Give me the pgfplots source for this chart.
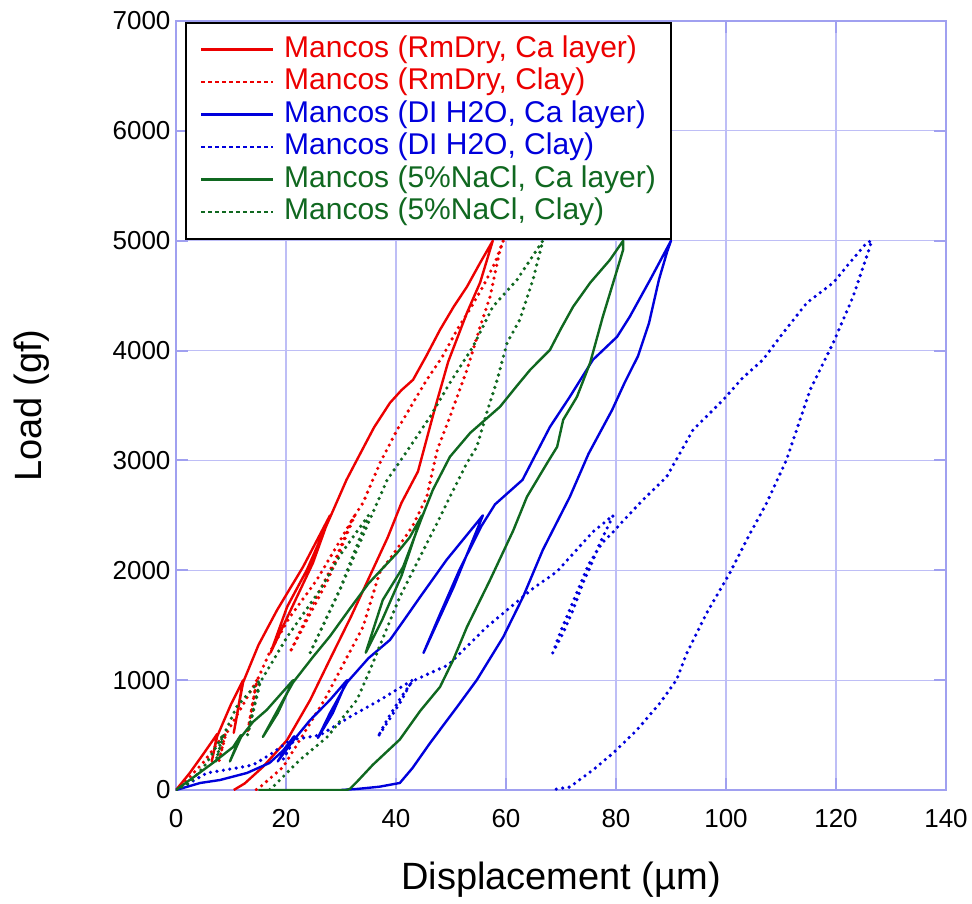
\documentclass[border=0pt]{standalone}
\usepackage{fontspec}
\setmainfont{Liberation Sans}
\usepackage{pgfplots}
\pgfplotsset{compat=1.18}
\definecolor{cRed}{RGB}{236,0,0}
\definecolor{cBlue}{RGB}{0,0,220}
\definecolor{cGreen}{RGB}{16,104,32}
\definecolor{gridc}{RGB}{190,190,246}
\definecolor{axisc}{RGB}{160,160,240}
\pgfplotsset{
  solidsty/.style={solid, line width=2.4pt, line join=round},
  dotsty/.style={dash pattern=on 0pt off 6.5pt, line cap=round, line width=3.6pt,
    legend image post style={dash pattern=on 4pt off 3pt, line cap=butt, line width=1.8pt}},
}
\begin{document}
\begin{tikzpicture}
\begin{axis}[
    at={(0,0)}, anchor=south west,
    scale only axis, width=770pt, height=769pt,
    xmin=0, xmax=140, ymin=0, ymax=7000,
    xtick={0,20,...,140}, ytick={0,1000,...,7000},
    grid=major, major grid style={color=gridc, line width=1.2pt},
    axis line style={color=axisc, line width=2.2pt},
    tick style={color=axisc, line width=2pt}, tick align=inside, major tick length=12pt,
    ticklabel style={font=\fontsize{26}{30}\selectfont},
    /pgf/number format/assume math mode=true,
    /pgf/number format/1000 sep={},
    scaled ticks=false,
    xticklabel style={yshift=-16pt},
    yticklabel style={xshift=-2pt},
    xlabel={Displacement (µm)}, ylabel={Load (gf)},
    label style={font=\fontsize{38}{44}\selectfont},
    xlabel style={at={(axis description cs:0.5,-0.117)}, anchor=center},
    ylabel style={at={(axis description cs:-0.187,0.5)}, anchor=center},
    legend cell align=left,
    legend image code/.code={\draw[#1] (0pt,0pt) -- (72pt,0pt);},
    legend style={at={(axis description cs:0.0117,0.9987)}, anchor=north west,
      draw=black, line width=1.6pt, fill=white,
      font=\fontsize{30}{32}\selectfont, inner xsep=14pt, inner ysep=10.5pt,
      row sep=0pt, column sep=9pt,
      nodes={inner sep=1pt, text height=23pt, text depth=7.5pt}},
]
% RmDry, Ca layer
\addplot[cRed, solidsty] coordinates {
(0,0) (2.5,155) (5,330) (7.5,510) (6.5,260) (7.5,490) (10,780) (12.2,1000) (10.5,520)
(12.2,980) (15,1320) (18.4,1640) (23.1,2031) (28,2500) (24.9,2067) (20.5,1600) (17.2,1250)
(20.2,1667) (23.8,2004) (28,2480) (31,2823) (32.9,3005) (36,3300) (38.9,3524) (41,3640)
(43.1,3734) (45.5,3950) (48,4189) (50.5,4400) (52.9,4581) (55.3,4799) (57.6,5000)
(55.3,4620) (52.9,4344) (49.5,3900) (47,3460) (44,2900) (41,2614) (38.5,2300) (35.5,1976)
(31.8,1576) (28.2,1211) (24.4,820) (20.2,455) (15.8,210) (12.5,60) (10.5,0)
};
\addlegendentry{\textcolor{cRed}{Mancos (RmDry, Ca layer)}}
% RmDry, Clay
\addplot[cRed, dotsty] coordinates {
(0,0) (2.5,120) (4.9,246) (7.5,420) (9,520) (7.8,260) (9,500) (12,760) (14.7,1002) (13,520)
(14.7,990) (17,1250) (20.5,1560) (25.6,1912) (29,2200) (32.5,2500) (27.5,1900) (20.7,1250)
(25,1700) (29,2100) (32,2460) (34,2614) (37.1,2978) (40.2,3278) (43.1,3524) (45.6,3734)
(48.5,3950) (51.1,4189) (53.5,4380) (56,4600) (58,4800) (59.5,5000) (58.9,4918) (57.1,4490)
(55.3,4217) (52.9,3825) (49.8,3397) (47.5,3096) (45.6,2668) (43,2400) (40,2180) (37,1976)
(34,1484) (31.5,1248) (27,820) (23.3,519) (19.5,210) (15.3,27) (14.5,0)
};
\addlegendentry{\textcolor{cRed}{Mancos (RmDry, Clay)}}
% DI H2O, Ca layer
\addplot[cBlue, solidsty] coordinates {
(0,0) (4.4,64) (8,91) (12.9,155) (17,246) (19.5,360) (21.5,490) (19,300) (18.5,260) (21,430)
(24.4,637) (28,820) (31.1,1000) (28.5,700) (25.8,474) (28,700) (31.1,980) (35,1200)
(38.9,1366) (41.5,1550) (44.4,1758) (49.2,2095) (55.8,2500) (50.5,1850) (45,1248) (48,1600)
(51.5,2000) (55.5,2400) (58,2600) (63,2823) (68,3306) (71.6,3579) (75.8,3916) (80.2,4126)
(82.5,4308) (86.2,4644) (90,5000) (89.3,4900) (87.8,4644) (86,4250) (84,3950)
(81.5,3700) (79.3,3460) (75,3060) (71.6,2668) (66.7,2186) (63.1,1758) (59.5,1393)
(54.7,1002) (51.1,756) (46.2,428) (43,200) (40.7,64) (37,30) (33,10) (30,0)
};
\addlegendentry{\textcolor{cBlue}{Mancos (DI H2O, Ca layer)}}
% DI H2O, Clay
\addplot[cBlue, dotsty] coordinates {
(0,0) (2.5,64) (5.6,155) (11,200) (14,228) (17,319) (21.5,480) (19.5,280) (21.5,460)
(26.2,500) (31.6,665) (37.1,820) (43,1000) (40.7,792) (38.5,620) (36.7,483) (38.5,650)
(41,850) (43,990) (46,1060) (49.5,1138) (56.5,1484) (65,1839) (69.2,1985) (75.8,2350)
(79.5,2500) (77.1,2250) (75.3,2031) (74,1885) (72.2,1640) (70.4,1430) (68.5,1248) (70,1450)
(72.5,1750) (75,2050) (77.5,2250) (79.5,2350) (81.3,2450) (84.9,2641) (89.2,2850) (94,3278)
(99.5,3552) (103,3750) (106.7,3916) (110.4,4162) (114.7,4435) (119.5,4617) (122.5,4800)
(125.6,4982) (126.5,5000) (125.8,4890) (123.1,4490) (119.5,4071) (115.3,3643) (111,3005)
(107.4,2614) (104,2300) (100.7,1976) (96.5,1612) (92.9,1248) (91,1002) (88,792) (83.8,546)
(79.5,337) (75.8,182) (71.6,27) (68,0)
};
\addlegendentry{\textcolor{cBlue}{Mancos (DI H2O, Clay)}}
% 5% NaCl, Ca layer
\addplot[cGreen, solidsty] coordinates {
(0,0) (2.5,91) (6.7,246) (10.4,392) (11.8,500) (9.8,260) (11.8,480) (14,620) (16.5,729)
(21.3,1000) (18.5,700) (15.8,483) (19.5,820) (21.3,980) (24.9,1211) (28,1400) (31.6,1650)
(35,1880) (40.2,2158) (42.5,2300) (44.7,2500) (41,1950) (37.5,1550) (34.5,1250) (37.6,1730)
(41.3,2031) (44.7,2480) (46.7,2732) (49.8,3033) (53.5,3251) (58.9,3488) (62,3680)
(64.4,3825) (68,4007) (70,4200) (72.2,4399) (75.3,4617) (78.9,4826) (81.3,5000)
(81.3,4918) (80.2,4735) (77.6,4308) (75.3,3889) (72.9,3579) (70.4,3370) (69.3,3124)
(67.5,2978) (63.8,2668) (61.3,2360) (57.1,1912) (52.9,1484) (50.4,1184) (48,938) (44.4,720)
(40.7,460) (35.8,230) (33,80) (31.6,10) (31,0) (15,0)
};
\addlegendentry{\textcolor{cGreen}{Mancos (5\%NaCl, Ca layer)}}
% 5% NaCl, Clay
\addplot[cGreen, dotsty] coordinates {
(0,0) (2.5,64) (5.6,246) (8,455) (8.5,500) (7.2,250) (8.5,480) (11,756) (15.3,1000) (13,500)
(15.3,980) (20.2,1393) (26.2,1821) (30,2150) (35,2500) (30,1850) (24.4,1250) (29.8,1821)
(34.7,2400) (38.4,2823) (41.3,3033) (46.2,3397) (49.8,3706) (54,4035) (57.6,4399) (62,4644)
(66.7,5000) (64.9,4644) (62.5,4280) (60.2,4071) (58.4,3734) (56.5,3433) (54.7,3124)
(52.9,2978) (49.8,2668) (47.5,2432) (43.8,2067) (40.7,1758) (38,1430) (35.5,1120)
(32.9,820) (27.5,483) (22.5,273) (17.6,27) (17,0)
};
\addlegendentry{\textcolor{cGreen}{Mancos (5\%NaCl, Clay)}}
\end{axis}
\pgfresetboundingbox
\useasboundingbox (-176pt,-113pt) rectangle (796pt,790pt);
\end{tikzpicture}
\end{document}
